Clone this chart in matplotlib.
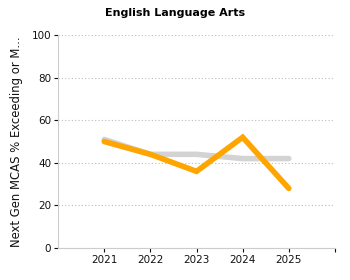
import matplotlib
matplotlib.use('Agg')
import matplotlib.pyplot as plt

years = [2021, 2022, 2023, 2024, 2025]
school = [50, 44, 36, 52, 28]
state = [51, 44, 44, 42, 42]
title = 'English Language Arts'
ylabel = 'Next Gen MCAS % Exceeding or M...'

plt.rcParams['font.family'] = ['DejaVu Sans']

fig = plt.figure(figsize=(3.5, 2.8), dpi=100)
ax = fig.add_axes([0.166, 0.114, 0.791, 0.761])

ax.plot(years, state, color='#d3d3d3', lw=4, solid_capstyle='round', zorder=2)
ax.plot(years, school, color='#ffa500', lw=4, solid_capstyle='round',
        solid_joinstyle='miter', zorder=3)

ax.set_xlim(2020, 2026)
ax.set_ylim(0, 100)
ax.set_xticks(years + [2026])
ax.set_xticklabels([str(y) for y in years] + [''])
ax.set_yticks(range(0, 101, 20))

ax.yaxis.grid(True, linestyle=(0, (1, 2)), color='#bbbbbb', lw=0.8)
ax.set_axisbelow(True)
for s in ['top', 'right']:
    ax.spines[s].set_visible(False)
for s in ['left', 'bottom']:
    ax.spines[s].set_color('#cccccc')
ax.tick_params(labelsize=7.5, length=3, width=0.8, colors='#111111', pad=2)

fig.text(0.5, 0.955, title, fontsize=8, fontweight='bold', ha='center', va='center')
ax.set_ylabel(ylabel, fontsize=8.4, color='#111111', labelpad=6)

fig.savefig('out.png', dpi=100)
